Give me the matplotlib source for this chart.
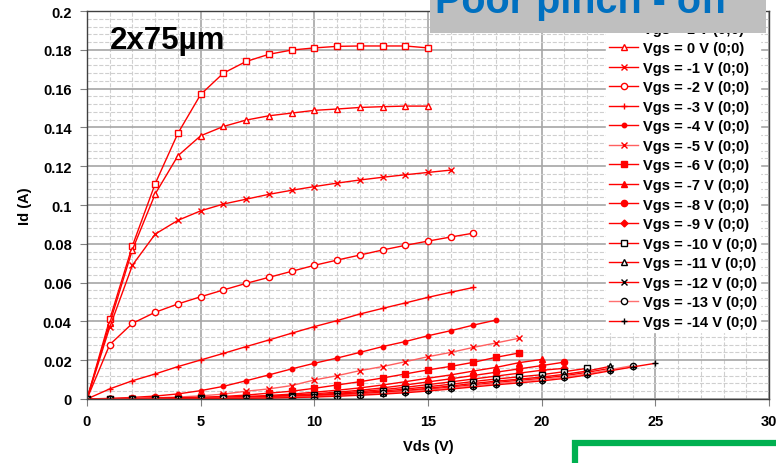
"""
Id-Vds output curves, 2x75um device, Vgs = +1 ... -14 V
"""
import numpy as np
import matplotlib.pyplot as plt
from matplotlib.patches import Rectangle
from matplotlib.ticker import MultipleLocator, FuncFormatter

# Vgs steps (legend labels) and measured drain current (A) at Vds = 0,1,2,... V
vgs = [1, 0, -1, -2, -3, -4, -5, -6, -7, -8, -9, -10, -11, -12, -13, -14]
id_p1 = [0, 0.041, 0.079, 0.111, 0.137, 0.157, 0.168, 0.174, 0.1777, 0.1799, 0.181,
         0.1818, 0.182, 0.182, 0.182, 0.181]
id_0 = [0, 0.039, 0.077, 0.1057, 0.1254, 0.1357, 0.1405, 0.1438, 0.146, 0.1474, 0.1488,
        0.1495, 0.1503, 0.1507, 0.151, 0.151]
id_m1 = [0, 0.037, 0.069, 0.085, 0.0921, 0.097, 0.1005, 0.103, 0.1055, 0.1076, 0.1095,
         0.1113, 0.1129, 0.1143, 0.1156, 0.1168, 0.118]
id_m2 = [0, 0.028, 0.039, 0.0447, 0.049, 0.0527, 0.0562, 0.0596, 0.0627, 0.0658, 0.0689,
         0.0716, 0.0742, 0.0768, 0.0792, 0.0814, 0.0835, 0.0855]
id_m3 = [0, 0.0052, 0.0094, 0.0129, 0.0167, 0.0201, 0.0235, 0.027, 0.0304, 0.0339, 0.0373,
         0.0404, 0.0438, 0.0467, 0.0495, 0.0524, 0.055, 0.0575]
id_m4 = [0, 0.0003, 0.0008, 0.0015, 0.0026, 0.0043, 0.0065, 0.0094, 0.0124, 0.0155, 0.0184,
         0.0211, 0.024, 0.027, 0.0296, 0.0326, 0.0352, 0.0381, 0.0407]
id_m5 = [0, 0.0001, 0.0003, 0.0006, 0.001, 0.0016, 0.0025, 0.004, 0.0052, 0.0069, 0.0098,
         0.012, 0.0146, 0.0167, 0.0192, 0.0218, 0.024, 0.0266, 0.0289, 0.0313]
id_m6 = [0, 0.0001, 0.0002, 0.0004, 0.0006, 0.0009, 0.0013, 0.002, 0.003, 0.004, 0.0055,
         0.0072, 0.0089, 0.0108, 0.0129, 0.015, 0.0168, 0.0189, 0.0215, 0.0237]
id_m7 = [0, 0.0001, 0.0002, 0.0003, 0.0004, 0.0006, 0.0009, 0.0013, 0.0018, 0.0025, 0.0035,
         0.0045, 0.0057, 0.0072, 0.0089, 0.0107, 0.0124, 0.0144, 0.0163, 0.0187, 0.0204]
id_m8 = [0, 0.0001, 0.0001, 0.0002, 0.0003, 0.0005, 0.0007, 0.001, 0.0014, 0.002, 0.0027,
         0.0035, 0.0045, 0.0057, 0.0072, 0.0088, 0.0104, 0.0121, 0.0138, 0.0155, 0.0172, 0.019]
id_m9 = [0, 0, 0.0001, 0.0002, 0.0003, 0.0004, 0.0006, 0.0008, 0.0011, 0.0016, 0.0022,
         0.0029, 0.0038, 0.0048, 0.006, 0.0074, 0.0088, 0.0103, 0.0118, 0.0133, 0.0148, 0.0158]
id_m10 = [0, 0, 0.0001, 0.0001, 0.0002, 0.0003, 0.0005, 0.0007, 0.001, 0.0014, 0.0019,
          0.0025, 0.0032, 0.0041, 0.0051, 0.0063, 0.0076, 0.009, 0.0103, 0.0114, 0.0125,
          0.0141, 0.0158]
id_m11 = [0, 0, 0.0001, 0.0001, 0.0002, 0.0003, 0.0004, 0.0006, 0.0009, 0.0012, 0.0016,
          0.0021, 0.0027, 0.0035, 0.0044, 0.0055, 0.0067, 0.008, 0.0092, 0.0102, 0.0113,
          0.0127, 0.0144, 0.0168]
id_m12 = [0, 0, 0, 0.0001, 0.0002, 0.0002, 0.0003, 0.0005, 0.0007, 0.001, 0.0014,
          0.0019, 0.0025, 0.0032, 0.004, 0.005, 0.0061, 0.0073, 0.0085, 0.0096, 0.0106,
          0.012, 0.0137, 0.0158]
id_m13 = [0, 0, 0, 0.0001, 0.0001, 0.0002, 0.0003, 0.0004, 0.0006, 0.0009, 0.0012,
          0.0016, 0.0022, 0.0029, 0.0037, 0.0046, 0.0056, 0.0068, 0.0079, 0.009, 0.01,
          0.0113, 0.013, 0.0151, 0.0172]
id_m14 = [0, 0, 0, 0, 0.0001, 0.0001, 0.0002, 0.0003, 0.0005, 0.0007, 0.001,
          0.0014, 0.0019, 0.0025, 0.0032, 0.0041, 0.0051, 0.0062, 0.0073, 0.0083, 0.0093,
          0.0106, 0.0124, 0.0145, 0.0165, 0.0184]
curves = [id_p1, id_0, id_m1, id_m2, id_m3, id_m4, id_m5, id_m6, id_m7, id_m8, id_m9,
          id_m10, id_m11, id_m12, id_m13, id_m14]

# marker style per curve: (marker, filled, marker colour, line colour)
styles = [('s', False, 'red', 'red'), ('^', False, 'red', 'red'), ('x', True, 'red', 'red'),
          ('o', False, 'red', 'red'), ('+', True, 'red', 'red'), ('o', True, 'red', 'red'),
          ('x', True, 'red', '#ff6060'), ('s', True, 'red', 'red'), ('^', True, 'red', 'red'),
          ('o', True, 'red', 'red'), ('D', True, 'red', 'red'), ('s', False, 'black', 'red'),
          ('^', False, 'black', 'red'), ('x', True, 'black', 'red'), ('o', False, 'black', '#ff7070'),
          ('+', True, 'black', 'red')]
sizes = [4.5, 4.5, 4.5, 4.5, 5, 3.2, 4.5, 5, 5, 4.5, 3.5, 5, 4.5, 4.5, 4.5, 5]

plt.rcParams['font.family'] = ['Liberation Sans', 'DejaVu Sans']
plt.rcParams['font.weight'] = 'bold'
fig = plt.figure(figsize=(7.76, 4.64), dpi=100)
ax = fig.add_axes([0.1121, 0.138, 0.8789, 0.836])

for v, y, (m, filled, mc, lc), ms in zip(vgs, curves, styles, sizes):
    x = np.arange(len(y))
    ax.plot(x, y, color=lc, lw=1.0, marker=m, ms=ms, mec=mc,
            mfc=mc if filled else 'white', mew=1.0,
            label='Vgs = %d V (0;0)' % v)

ax.set_xlim(0, 30)
ax.set_ylim(0, 0.2)
ax.xaxis.set_major_locator(MultipleLocator(5))
ax.xaxis.set_minor_locator(MultipleLocator(1))
ax.yaxis.set_major_locator(MultipleLocator(0.02))
ax.yaxis.set_minor_locator(MultipleLocator(0.004))
ax.yaxis.set_major_formatter(FuncFormatter(lambda v, p: '%g' % round(v, 3)))
ax.grid(which='major', color='#a6a6a6', lw=1.2, ls='-')
ax.grid(which='minor', color='#cfcfcf', lw=0.8, ls='--')
ax.set_axisbelow(True)
for s in ax.spines.values():
    s.set_color('#404040')
    s.set_linewidth(1.0)
ax.tick_params(which='major', length=5, color='#808080', labelsize=10.5, pad=6)
ax.tick_params(which='minor', length=0)
ax.set_xlabel('Vds (V)', fontsize=10.5, fontweight='bold', labelpad=8)
ax.set_ylabel('Id (A)', fontsize=10.5, fontweight='bold', labelpad=8)

ax.text(0.033, 0.965, '2x75µm', transform=ax.transAxes, fontsize=22.5,
        fontweight='bold', va='top', ha='left')

leg = ax.legend(loc='upper right', bbox_to_anchor=(0.997, 0.999),
                prop={'weight': 'bold', 'size': 10.5}, handlelength=2.0,
                labelspacing=0.38, borderpad=0.2, handletextpad=0.3,
                frameon=True, fancybox=False, edgecolor='white', framealpha=1)

# title box partly off the top of the picture
fig.patches.append(Rectangle((430 / 776, 1 - 34 / 464), 336 / 776, 34 / 464,
                             transform=fig.transFigure, facecolor='#bfbfbf',
                             edgecolor='none', zorder=10))
fig.text(581 / 776, 1 - 13 / 464, 'Poor pinch - off', color='#0070c0', fontsize=28.5,
         fontweight='bold', ha='center', va='baseline', zorder=11)
# green frame at the bottom right
fig.patches.append(Rectangle((575 / 776, -0.05), 0.5, (464 - 444) / 464 + 0.05,
                             transform=fig.transFigure, facecolor='none',
                             edgecolor='#00b050', lw=4.5, zorder=10))

fig.savefig('out.png', dpi=100)
